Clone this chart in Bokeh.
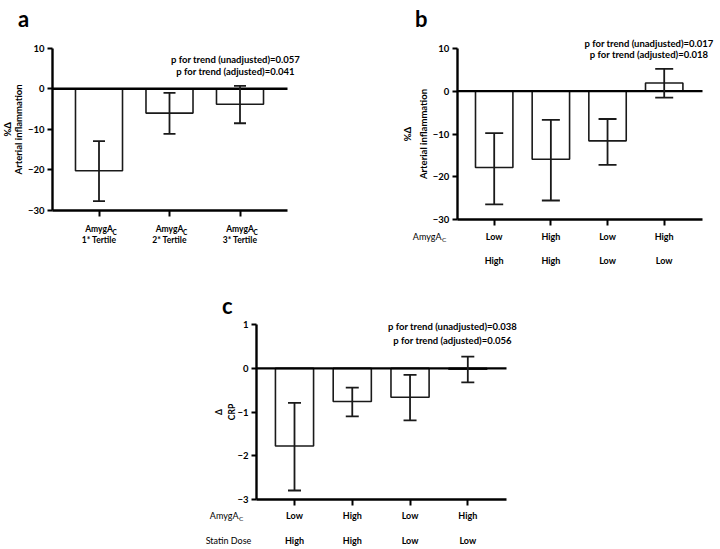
import math
from bokeh.plotting import figure
from bokeh.models import (ColumnDataSource, Whisker, Label, LabelSet,
                          FixedTicker, Range1d, Spacer)
from bokeh.core.properties import value
from bokeh.layouts import row, column
from bokeh.embed import file_html
from bokeh.resources import INLINE

FONT = "Lato"

# ---------------- data ----------------
# Panel a
a_row1 = ["AmygA", "AmygA", "AmygA"]
a_row2 = ["1* Tertile", "2* Tertile", "3* Tertile"]
a_means = [-20.2, -6.0, -3.8]
a_lower = [-27.7, -11.1, -8.5]
a_upper = [-12.9, -1.0, 0.7]
a_yticks = [-30, -20, -10, 0, 10]
a_ylabel = ["%Δ", "Arterial inflammation"]
a_ptext = ["p for trend (unadjusted)=0.057", "p for trend (adjusted)=0.041"]

# Panel b
b_amyg = ["Low", "High", "Low", "High"]
b_statin = ["High", "High", "Low", "Low"]
b_means = [-17.8, -15.9, -11.6, 1.9]
b_lower = [-26.4, -25.5, -17.2, -1.5]
b_upper = [-9.8, -6.7, -6.5, 5.2]
b_yticks = [-30, -20, -10, 0, 10]
b_ylabel = ["%Δ", "Arterial inflammation"]
b_ptext = ["p for trend (unadjusted)=0.017", "p for trend (adjusted)=0.018"]

# Panel c
c_amyg = ["Low", "High", "Low", "High"]
c_statin = ["High", "High", "Low", "Low"]
c_means = [-1.78, -0.76, -0.66, -0.02]
c_lower = [-2.80, -1.10, -1.19, -0.32]
c_upper = [-0.79, -0.44, -0.15, 0.27]
c_yticks = [-3, -2, -1, 0, 1]
c_ylabel = ["Δ", "CRP"]
c_ptext = ["p for trend (unadjusted)=0.038", "p for trend (adjusted)=0.056"]

row_name_amyg = "AmygA"
row_name_sub = "C"
row_name_statin = "Statin Dose"

INK = "#1a1a1a"


class Panel:
    """A figure whose frame fills the whole figure; axes are placed inside."""

    def __init__(self, W, H, L, R, T, B, c1, s, yticks, means, lower, upper,
                 bw, cap, xlabels, xlabel_size, xlabel_standoff):
        self.W, self.H = W, H
        n = len(means)
        self.xs = list(range(1, n + 1))
        ymin, ymax = min(yticks), max(yticks)
        self.ymin, self.ymax = ymin, ymax
        k = (B - T) / (ymax - ymin)          # px per y unit
        x_at = lambda px: 1 + (px - c1) / s
        y_at = lambda py: ymax - (py - T) / k
        self.xl, self.xr = x_at(L), x_at(R)
        p = figure(width=W, height=H,
                   x_range=Range1d(x_at(0), x_at(W)),
                   y_range=Range1d(y_at(H), y_at(0)),
                   output_backend="svg", toolbar_location=None,
                   min_border=0, min_border_left=0, min_border_right=0,
                   min_border_top=0, min_border_bottom=0)
        p.outline_line_color = None
        p.grid.visible = False
        p.background_fill_color = "white"
        p.border_fill_color = "white"

        src = ColumnDataSource(dict(x=self.xs, top=means, lower=lower,
                                    upper=upper))
        p.vbar(x="x", top="top", bottom=0, width=bw, source=src,
               fill_color="white", line_color=INK, line_width=1.6)
        # zero line across the axis extent
        p.segment(x0=[self.xl], x1=[self.xr], y0=[0], y1=[0],
                  line_color="black", line_width=2.4)
        wh = Whisker(base="x", lower="lower", upper="upper", source=src,
                     line_width=1.8, line_color=INK, level="overlay")
        for head in (wh.upper_head, wh.lower_head):
            head.size = cap
            head.line_width = 1.8
            head.line_color = INK
        p.add_layout(wh)

        ya = p.yaxis[0]
        ya.fixed_location = self.xl
        ya.bounds = (ymin, ymax)
        ya.ticker = FixedTicker(ticks=yticks)
        ya.major_label_text_font = FONT
        ya.major_label_text_font_style = "bold"
        ya.major_label_text_font_size = "9.5px"
        ya.major_label_text_color = "black"
        ya.major_label_standoff = 3
        ya.major_tick_out = 5
        ya.major_tick_in = 0
        ya.minor_tick_out = 0
        ya.minor_tick_in = 0
        ya.axis_line_width = 2.4
        ya.major_tick_line_width = 2

        xa = p.xaxis[0]
        xa.fixed_location = ymin
        xa.bounds = (self.xl, self.xr)
        xa.ticker = FixedTicker(ticks=self.xs)
        xa.major_label_overrides = {x: t for x, t in zip(self.xs, xlabels)}
        xa.major_label_text_font = FONT
        xa.major_label_text_font_style = "bold"
        xa.major_label_text_font_size = xlabel_size
        xa.major_label_text_color = "black"
        xa.major_label_standoff = xlabel_standoff
        xa.major_tick_out = 6
        xa.major_tick_in = 0
        xa.minor_tick_out = 0
        xa.minor_tick_in = 0
        xa.axis_line_width = 2.4
        xa.major_tick_line_width = 2
        self.p = p

    def text(self, px, py, t, size="9px", style="bold", align="center",
             angle=0.0, baseline="middle"):
        self.p.add_layout(Label(x=px, y=self.H - py, x_units="screen",
                                y_units="screen", text=t, angle=angle,
                                text_align=align, text_baseline=baseline,
                                text_font=FONT, text_font_style=style,
                                text_font_size=size, text_color="black"))

    def ylabel(self, lines, pxs, size="9.5px"):
        mid = (self.ymin + self.ymax) / 2
        for t, px in zip(lines, pxs):
            self.p.add_layout(Label(x=px, y=mid, x_units="screen",
                                    y_units="data", text=t,
                                    angle=math.pi / 2, text_align="center",
                                    text_baseline="middle", text_font=FONT,
                                    text_font_style="bold",
                                    text_font_size=size, text_color="black"))

    def cat_row(self, texts, yoff, size="9px", style="bold", align="center",
                xoff=0):
        src = ColumnDataSource(dict(x=self.xs, y=[self.ymin] * len(self.xs),
                                    t=texts))
        self.p.add_layout(LabelSet(x="x", y="y", text="t", source=src,
                                   x_offset=xoff, y_offset=yoff,
                                   text_align=value(align),
                                   text_baseline=value("middle"),
                                   text_font=value(FONT),
                                   text_font_style=value(style),
                                   text_font_size=value(size),
                                   text_color=value("black")))


# ---------------- panel a ----------------
A = Panel(360, 280, 52, 287, 47.7, 210, 98.5, 70.5, a_yticks, a_means,
          a_lower, a_upper, 0.667, 12, a_row1, "8.5px", 7)
A.text(23, 18, "a", size="22px", baseline="alphabetic")
A.ylabel(a_ylabel, [7, 18])
A.text(235, 59, a_ptext[0], size="9.5px")
A.text(235, 71, a_ptext[1], size="9.5px")
A.cat_row([row_name_sub] * 3, -21.8, size="6.5px", align="left", xoff=13.5)
A.cat_row(a_row2, -29.5, size="8.5px")

# ---------------- panel b ----------------
Bp = Panel(360, 280, 96.7, 342, 47.7, 219.3, 133.7, 56.67, b_yticks, b_means,
           b_lower, b_upper, 0.66, 18, b_amyg, "9px", 5)
Bp.text(60.7, 18, "b", size="22px", baseline="alphabetic")
Bp.ylabel(b_ylabel, [46.7, 63])
Bp.text(288.5, 42.5, b_ptext[0], size="9.5px")
Bp.text(288.5, 53.5, b_ptext[1], size="9.5px")
Bp.cat_row(b_statin, -41, size="9px")
Bp.text(81, 235.5, row_name_amyg, size="9px", style="normal", align="right")
Bp.text(81.5, 238.5, row_name_sub, size="6.5px", style="normal",
        align="left")

# ---------------- panel c ----------------
C = Panel(400, 269, 106, 356, 44.3, 218.7, 144, 57.77, c_yticks, c_means,
          c_lower, c_upper, 0.66, 13, c_amyg, "9px", 5)
C.text(76.7, 25, "c", size="22px", baseline="alphabetic")
C.ylabel(c_ylabel, [68, 81.7], size="8.5px")
C.text(302, 45.7, c_ptext[0], size="9.5px")
C.text(302, 60.3, c_ptext[1], size="9.5px")
C.cat_row(c_statin, -41.3, size="9px")
C.text(88, 235, row_name_amyg, size="9px", style="normal", align="right")
C.text(88.5, 238, row_name_sub, size="6.5px", style="normal", align="left")
C.text(78, 260, row_name_statin, size="9px", style="normal")

layout = column(row(A.p, Bp.p),
                row(Spacer(width=150, height=269), C.p))

open("out.html", "w").write(file_html(layout, INLINE))
